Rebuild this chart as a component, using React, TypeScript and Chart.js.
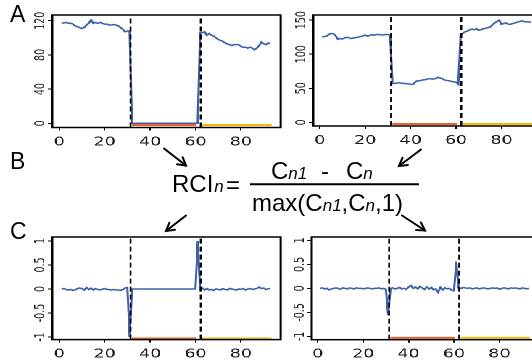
import React, { useEffect, useRef } from "react";
import { Chart, registerables } from "chart.js";

Chart.register(...registerables);
Chart.defaults.font.family = "'DejaVu Sans', sans-serif";

// ---------------- data ----------------
const xTicks = [0, 20, 40, 60, 80];
const yTicksA1 = [0, 40, 80, 120];
const yTicksA2 = [0, 50, 100, 150];
const yTicksC = [-1, -0.5, 0, 0.5, 1];
const breakLines = [31.4, 62.3];
const redSpan = [32, 60.5];
const yellowSpan = [63, 93.5];

const countsA1 = [
  117, 117.5, 118, 117, 117, 116, 114, 113, 112, 111,
  112, 115, 117, 121, 117, 118, 117, 118, 117, 116,
  116, 115, 115, 115.5, 115, 114, 112, 110, 107, 108,
  108,
  0, 0, 0, 0, 0, 0, 0, 0, 0, 0,
  0, 0, 0, 0, 0, 0, 0, 0, 0, 0,
  0, 0, 0, 0, 0, 0, 0, 0, 0, 0,
  106, 106, 107, 103, 105, 103, 102, 100, 98, 97,
  96, 94, 93, 92, 91, 92, 92, 92, 90, 89,
  89, 88, 89, 88, 86, 88, 91, 95, 93, 92,
  94, 93,
];

const countsA2 = [
  125.5, 126, 126.5, 129, 130.5, 130, 127, 122, 123, 122.5,
  124, 125, 124, 123, 124, 124.5, 125, 126, 127, 128,
  126.5, 127.5, 128.5, 128, 129, 129, 128.5, 128.5, 129, 129,
  128,
  57, 57, 57.5, 58, 57.5, 57, 57, 56.5, 56, 55.5,
  59, 61, 61, 62, 62.5, 63, 64, 64, 63.5, 64,
  66, 65, 64, 62, 61.5, 61, 60, 59.5, 59, 56,
  128, 131, 133, 134, 136, 137, 136, 137.5, 135, 136,
  137.5, 138, 139, 140, 143, 146, 148, 150, 144, 145,
  146, 144, 144, 145, 146, 147, 148, 149, 148, 147.5,
  147.5, 147,
];

const rciC1 = [
  0, 0.01, -0.01, -0.02, -0.01, -0.03, -0.02, 0.01, 0.02, 0.01,
  -0.02, 0.03, -0.01, 0.02, -0.02, 0.01, -0.01, -0.02, 0, 0.01,
  -0.01, -0.01, -0.02, -0.01, -0.02, -0.02, -0.03, -0.01, 0.02, 0.03,
  -1,
  0, 0, 0, 0, 0, 0, 0, 0, 0, 0,
  0, 0, 0, 0, 0, 0, 0, 0, 0, 0,
  0, 0, 0, 0, 0, 0, 0, 0, 0,
  1,
  -0.01, 0.02, -0.02, 0.01, -0.02, -0.01, -0.03, 0, -0.01, -0.02,
  0.01, -0.01, -0.02, 0.01, 0, -0.01, -0.02, 0, -0.01, 0.01,
  -0.02, 0, 0.01, -0.01, 0, 0.01, 0.04, 0.01, 0.02, -0.01,
  0.01, 0,
];

const rciC2 = [
  0, 0.01, -0.01, 0, -0.03, -0.01, 0, 0.01, 0, -0.02,
  0.01, 0, -0.01, 0.01, 0, -0.01, 0.01, 0, 0, -0.01,
  0, 0.01, 0, -0.01, 0, 0, 0.01, -0.01, 0, -0.02,
  -0.55,
  0, 0.01, -0.01, 0, 0.02, -0.01, 0, -0.02, 0.03, 0.06,
  0, 0.03, -0.01, 0.04, 0.01, -0.02, 0.03, -0.01, 0.02, -0.03,
  -0.01, -0.08, 0.02, -0.03, 0.01, -0.01, 0, -0.04, -0.05,
  0.56,
  0.01, 0, 0.02, 0.01, 0, 0.01, -0.01, 0, 0.01, -0.01,
  0, 0.01, 0, -0.01, 0, 0.01, 0, 0.01, -0.02, 0,
  0.01, 0, -0.01, 0.01, 0, 0.01, 0, -0.01, 0.01, 0,
  -0.01, 0,
];

// ---------------- styling / layout ----------------
const BLUE = "#3d61ab";
const RED = "#e8622a";
const YELLOW = "#f5b70a";
const S = 1.45; // horizontal stretch of the plot panels
const PX = 2.271; // reference px per x unit
const PT = 4;
const YW = 28;

function geom(x0Ref: number, xMin: number, xMax: number, boxTop: number, boxBottom: number) {
  const boxL = (x0Ref + xMin * PX) / S;
  const boxW = ((xMax - xMin) * PX) / S;
  const boxH = boxBottom - boxTop;
  const cw = Math.ceil(YW + boxW + 4);
  const ch = Math.ceil(PT + boxH + 24);
  return { left: boxL - YW, top: boxTop - PT, cw, ch, padRight: cw - YW - boxW, xh: ch - PT - boxH };
}

const framePlugin = {
  id: "frame",
  afterDraw(chart: any) {
    const { ctx, chartArea: a } = chart;
    ctx.save();
    ctx.strokeStyle = "#000";
    ctx.lineWidth = 1.5;
    ctx.strokeRect(a.left, a.top, a.right - a.left, a.bottom - a.top);
    const ys = chart.scales.y;
    ctx.fillStyle = "#1a1a1a";
    ctx.font = "9.5px 'DejaVu Sans'";
    ctx.textAlign = "center";
    ctx.textBaseline = "middle";
    ys.ticks.forEach((t: any) => {
      const y = ys.getPixelForValue(t.value);
      ctx.save();
      ctx.translate(a.left - 8.2, y);
      ctx.rotate(-Math.PI / 2);
      ctx.fillText(String(t.value), 0, 0);
      ctx.restore();
    });
    ctx.restore();
  },
};

type PanelProps = {
  values: number[];
  yTicks: number[];
  yMin: number;
  yMax: number;
  xMin: number;
  xMax: number;
  barY: number;
  x0Ref: number;
  boxTop: number;
  boxBottom: number;
};

function Panel(p: PanelProps) {
  const ref = useRef<HTMLCanvasElement>(null);
  const g = geom(p.x0Ref, p.xMin, p.xMax, p.boxTop, p.boxBottom);
  useEffect(() => {
    const grid = {
      display: true,
      drawOnChartArea: false,
      drawTicks: true,
      tickLength: 3,
      color: "#000",
      lineWidth: 1,
    };
    const chart = new Chart(ref.current as HTMLCanvasElement, {
      type: "line",
      data: {
        datasets: [
          {
            data: [{ x: breakLines[0], y: p.yMin }, { x: breakLines[0], y: p.yMax }],
            borderColor: "#000",
            borderWidth: 1.3,
            borderDash: [5, 3],
            pointRadius: 0,
          },
          {
            data: [{ x: breakLines[1], y: p.yMin }, { x: breakLines[1], y: p.yMax }],
            borderColor: "#000",
            borderWidth: 1.3,
            borderDash: [5, 3],
            pointRadius: 0,
          },
          {
            data: p.values.map((v, i) => ({ x: i + 1, y: v })),
            borderColor: BLUE,
            borderWidth: 1.5,
            pointRadius: 0,
            tension: 0,
          },
          {
            data: redSpan.map((x) => ({ x, y: p.barY })),
            borderColor: RED,
            borderWidth: 2,
            pointRadius: 0,
          },
          {
            data: yellowSpan.map((x) => ({ x, y: p.barY })),
            borderColor: YELLOW,
            borderWidth: 2,
            pointRadius: 0,
          },
        ],
      },
      options: {
        animation: false,
        responsive: false,
        devicePixelRatio: 2,
        events: [],
        layout: { padding: { left: 0, top: PT, right: g.padRight, bottom: 0 } },
        plugins: { legend: { display: false }, tooltip: { enabled: false } },
        scales: {
          x: {
            type: "linear",
            min: p.xMin,
            max: p.xMax,
            afterBuildTicks: (s: any) => {
              s.ticks = xTicks.map((v) => ({ value: v }));
            },
            afterFit: (s: any) => {
              s.height = g.xh;
            },
            grid,
            border: { display: false },
            ticks: {
              autoSkip: false,
              maxRotation: 0,
              minRotation: 0,
              padding: 4.5,
              color: "#1a1a1a",
              font: { family: "'DejaVu Sans'", size: 12 },
            },
          },
          y: {
            type: "linear",
            min: p.yMin,
            max: p.yMax,
            afterBuildTicks: (s: any) => {
              s.ticks = p.yTicks.map((v) => ({ value: v }));
            },
            afterFit: (s: any) => {
              s.width = YW;
            },
            grid,
            border: { display: false },
            ticks: { display: false },
          },
        },
      } as any,
      plugins: [framePlugin],
    });
    return () => chart.destroy();
  }, []);
  return (
    <div style={{ position: "absolute", left: g.left, top: g.top, width: g.cw, height: g.ch }}>
      <canvas ref={ref} width={g.cw} height={g.ch} style={{ width: g.cw, height: g.ch, display: "block" }} />
    </div>
  );
}

function Arrow({ x1, y1, x2, y2 }: { x1: number; y1: number; x2: number; y2: number }) {
  const ang = Math.atan2(y2 - y1, x2 - x1);
  const L = 9;
  const a = Math.PI / 6;
  const p1 = [x2 - L * Math.cos(ang - a), y2 - L * Math.sin(ang - a)];
  const p2 = [x2 - L * Math.cos(ang + a), y2 - L * Math.sin(ang + a)];
  return (
    <g stroke="#000" strokeWidth={2} fill="none" strokeLinecap="round" strokeLinejoin="miter">
      <line x1={x1} y1={y1} x2={x2} y2={y2} />
      <polyline points={`${p1[0]},${p1[1]} ${x2},${y2} ${p2[0]},${p2[1]}`} />
    </g>
  );
}

export default function App() {
  const sub = { fontStyle: "italic" as const, fontSize: 17 };
  return (
    <div style={{ position: "absolute", left: 0, top: 0, width: 532, height: 362, overflow: "hidden", background: "#fff" }}>
      <div
        style={{
          position: "absolute",
          left: 0,
          top: 0,
          width: 532 / S,
          height: 362,
          transform: `scaleX(${S})`,
          transformOrigin: "0 0",
        }}
      >
        <Panel values={countsA1} yTicks={yTicksA1} yMin={-4.9} yMax={126.7} xMin={-3.1} xMax={97.5} barY={-2} x0Ref={59.3} boxTop={15} boxBottom={127.5} />
        <Panel values={countsA2} yTicks={yTicksA2} yMin={-5.4} yMax={157.6} xMin={-2.9} xMax={97.7} barY={-2.5} x0Ref={319.3} boxTop={15} boxBottom={126} />
        <Panel values={rciC1} yTicks={yTicksC} yMin={-1.054} yMax={1.083} xMin={-3.1} xMax={97.5} barY={-1.03} x0Ref={59.3} boxTop={236.7} boxBottom={339.3} />
        <Panel values={rciC2} yTicks={yTicksC} yMin={-1.069} yMax={1.071} xMin={-2.65} xMax={97.9} barY={-1.03} x0Ref={317.7} boxTop={237.3} boxBottom={340} />
      </div>
      <svg
        width={532}
        height={362}
        style={{ position: "absolute", left: 0, top: 0, pointerEvents: "none" }}
        fontFamily="'Liberation Sans', Arial, sans-serif"
      >
        <text x={10} y={22} fontSize={23}>A</text>
        <text x={10} y={168.5} fontSize={23}>B</text>
        <text x={10} y={238.5} fontSize={23}>C</text>

        <text x={172} y={191.5} fontSize={24}>
          RCI<tspan style={sub} dx={1}>n</tspan>
        </text>
        <text x={226} y={192.5} fontSize={24}>=</text>
        <text x={271} y={178.5} fontSize={24}>
          C<tspan style={sub}>n1</tspan>
        </text>
        <text x={321} y={178.5} fontSize={24}>-</text>
        <text x={346} y={178.5} fontSize={24}>
          C<tspan style={sub}>n</tspan>
        </text>
        <line x1={250} y1={184.3} x2={419} y2={184.3} stroke="#000" strokeWidth={2} />
        <text x={252} y={211} fontSize={24}>
          max(C<tspan style={sub}>n1</tspan>,C<tspan style={sub}>n</tspan>,1)
        </text>

        <Arrow x1={164} y1={148.5} x2={186} y2={165.5} />
        <Arrow x1={421} y1={149.5} x2={399} y2={166} />
        <Arrow x1={186} y1={215.5} x2={166} y2={231} />
        <Arrow x1={402} y1={215.5} x2={425} y2={230.5} />
      </svg>
    </div>
  );
}
